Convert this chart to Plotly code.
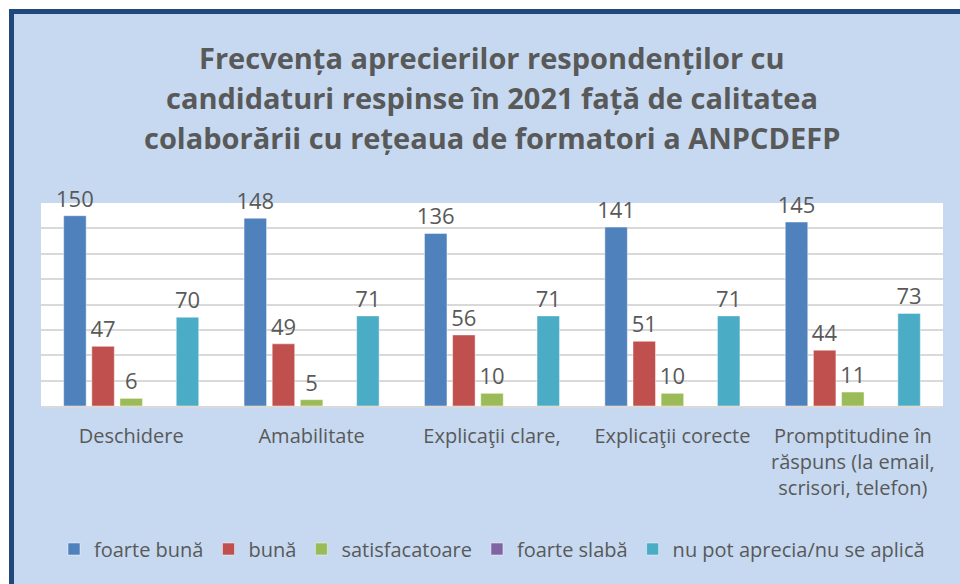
import plotly.graph_objects as go

# data
categories = [
    "Deschidere",
    "Amabilitate",
    "Explicaţii clare,",
    "Explicaţii corecte",
    "Promptitudine în<br>răspuns (la email,<br>scrisori, telefon)",
]
series_names = ["foarte bună", "bună", "satisfacatoare", "foarte slabă",
                "nu pot aprecia/nu se aplică"]
foarte_buna = [150, 148, 136, 141, 145]
buna = [47, 49, 56, 51, 44]
satisfacatoare = [6, 5, 10, 10, 11]
foarte_slaba = [0, 0, 0, 0, 0]
nu_pot_aprecia = [70, 71, 71, 71, 73]

title_lines = [
    "Frecvența aprecierilor respondenților cu",
    "candidaturi respinse în 2021 față de calitatea",
    "colaborării cu rețeaua de formatori a ANPCDEFP",
]

colors = ["#4F81BD", "#C0504D", "#9BBB59", "#8064A2", "#4BACC6"]
values = [foarte_buna, buna, satisfacatoare, foarte_slaba, nu_pot_aprecia]

BG = "#C6D9F1"
TXT = "#595959"
FONT = "Open Sans"

fig = go.Figure()
for name, vals, col in zip(series_names, values, colors):
    show_text = any(v > 0 for v in vals)
    fig.add_trace(go.Bar(
        name=name,
        x=categories,
        y=vals,
        marker=dict(color=col, line=dict(color="rgba(255,255,255,0.45)", width=1)),
        text=vals if show_text else None,
        textposition="outside",
        constraintext="none",
        textfont=dict(size=22, color=TXT, family=FONT),
        cliponaxis=False,
    ))

# title, one line per annotation (Excel-like line spacing)
for i, line in enumerate(title_lines):
    fig.add_annotation(
        text=line, xref="paper", yref="paper", x=0.5, y=1.0 + (146 - 40 * i) / 203,
        showarrow=False, xanchor="center", yanchor="middle",
        font=dict(size=29, color=TXT, family=FONT, weight="bold"),
    )

# white outer strip and dark blue frame (outside plot area)
W, H, L, T = 902, 203, 41, 203
def px_x(p):
    return (p - L) / W
def px_y(p):
    return (T + H - p) / H

shapes = [
    dict(type="rect", xref="paper", yref="paper", x0=px_x(-5), x1=px_x(9),
         y0=px_y(600), y1=px_y(-5), fillcolor="white", line_width=0),
    dict(type="rect", xref="paper", yref="paper", x0=px_x(-5), x1=px_x(970),
         y0=px_y(9), y1=px_y(-5), fillcolor="white", line_width=0),
    dict(type="line", xref="paper", yref="paper", x0=px_x(11.5), x1=px_x(11.5),
         y0=px_y(9), y1=px_y(600), line=dict(color="#1F497D", width=5)),
    dict(type="line", xref="paper", yref="paper", x0=px_x(9), x1=px_x(970),
         y0=px_y(11.5), y1=px_y(11.5), line=dict(color="#1F497D", width=5)),
]

fig.update_layout(
    width=960, height=584,
    margin=dict(l=L, r=17, t=T, b=178),
    paper_bgcolor=BG,
    plot_bgcolor="white",
    barmode="group",
    bargap=0.22,
    bargroupgap=0.2,
    font=dict(family=FONT, color=TXT, size=20),
    shapes=shapes,
    showlegend=True,
    legend=dict(
        orientation="h", x=0.5, xanchor="center", y=px_y(549), yanchor="middle",
        font=dict(size=20, color=TXT, family=FONT), bgcolor="rgba(0,0,0,0)",
        itemwidth=30, traceorder="normal",
    ),
)
fig.update_xaxes(
    showgrid=False, ticks="outside", ticklen=11, tickcolor="rgba(0,0,0,0)",
    tickfont=dict(size=20, color=TXT, family=FONT),
    showline=True, linecolor="#D9D9D9", linewidth=2,
)
fig.update_yaxes(
    range=[0, 160], dtick=20, showticklabels=False,
    showgrid=True, gridcolor="#D9D9D9", gridwidth=2, zeroline=False,
)

fig.write_html("out.html", config={"displayModeBar": False},
               post_script="document.body.style.margin='0';")
